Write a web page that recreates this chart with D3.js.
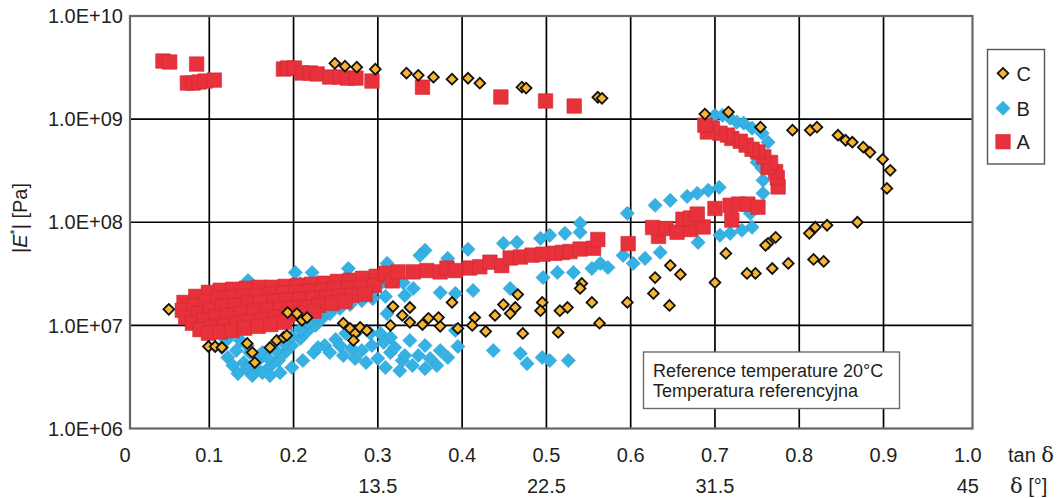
<!DOCTYPE html>
<html>
<head>
<meta charset="utf-8">
<script src="https://cdn.jsdelivr.net/npm/d3@7/dist/d3.min.js"></script>
<style>
  body { margin: 0; background: #fff; }
  svg { display: block; }
  text { font-family: "Liberation Sans", Arial, Helvetica, sans-serif; fill: #231f20; }
</style>
</head>
<body>
<svg id="chart" width="1061" height="498"></svg>
<script>
// Axis ticks and labels
const tanTicks = [0, 0.1, 0.2, 0.3, 0.4, 0.5, 0.6, 0.7, 0.8, 0.9, 1.0];
const tanTickLabels = ["0", "0.1", "0.2", "0.3", "0.4", "0.5", "0.6", "0.7", "0.8", "0.9", "1.0"];
const deltaTicks = [0.3, 0.5, 0.7, 1.0];
const deltaLabels = ["13.5", "22.5", "31.5", "45"];
const modTicks = [1e6, 1e7, 1e8, 1e9, 1e10];
const modTickLabels = ["1.0E+06", "1.0E+07", "1.0E+08", "1.0E+09", "1.0E+10"];
const legendNames = ["C", "B", "A"];
const noteLines = ["Reference temperature 20\u00B0C", "Temperatura referencyjna"];

// Series A: [tan delta, |E*| in Pa]
const seriesA = [
  [0.045, 3.66e9], [0.053, 3.58e9], [0.085, 3.42e9],
  [0.074, 2.24e9], [0.081, 2.24e9], [0.088, 2.29e9], [0.095, 2.34e9], [0.106, 2.39e9],
  [0.188, 3.06e9], [0.193, 3.13e9], [0.201, 3.13e9], [0.210, 2.80e9], [0.220, 2.80e9],
  [0.228, 2.74e9], [0.243, 2.56e9], [0.255, 2.56e9], [0.264, 2.50e9], [0.274, 2.50e9],
  [0.293, 2.34e9], [0.353, 2.04e9], [0.446, 1.64e9], [0.499, 1.50e9], [0.533, 1.34e9],
  // rubbery band
  [0.070, 1.67e7], [0.084, 1.91e7], [0.099, 2.09e7], [0.113, 2.19e7], [0.128, 2.24e7],
  [0.144, 2.29e7], [0.159, 2.34e7], [0.174, 2.34e7], [0.190, 2.39e7], [0.205, 2.44e7],
  [0.221, 2.50e7], [0.236, 2.56e7], [0.252, 2.67e7], [0.267, 2.74e7], [0.282, 2.86e7], [0.298, 2.99e7],
  [0.068, 1.40e7], [0.082, 1.56e7], [0.096, 1.71e7], [0.110, 1.83e7], [0.126, 1.87e7],
  [0.141, 1.91e7], [0.157, 1.95e7], [0.172, 2.00e7], [0.188, 2.05e7], [0.203, 2.09e7],
  [0.218, 2.14e7], [0.234, 2.19e7], [0.249, 2.24e7], [0.265, 2.29e7], [0.280, 2.34e7], [0.296, 2.44e7],
  [0.072, 1.20e7], [0.087, 1.31e7], [0.101, 1.43e7], [0.115, 1.53e7], [0.131, 1.56e7],
  [0.146, 1.64e7], [0.161, 1.67e7], [0.177, 1.71e7], [0.192, 1.75e7], [0.208, 1.79e7],
  [0.223, 1.83e7], [0.239, 1.87e7], [0.254, 1.91e7], [0.269, 1.95e7], [0.285, 2.00e7],
  [0.080, 1.05e7], [0.094, 1.12e7], [0.108, 1.20e7], [0.122, 1.25e7], [0.138, 1.31e7],
  [0.153, 1.37e7], [0.169, 1.40e7], [0.184, 1.43e7], [0.199, 1.46e7], [0.215, 1.50e7],
  [0.230, 1.56e7], [0.246, 1.64e7], [0.261, 1.71e7],
  [0.089, 9.1e6], [0.103, 9.6e6], [0.118, 1.0e7], [0.132, 1.05e7], [0.147, 1.09e7],
  [0.163, 1.14e7], [0.178, 1.20e7], [0.193, 1.25e7], [0.209, 1.31e7], [0.224, 1.37e7],
  [0.099, 8.4e6], [0.113, 8.6e6], [0.127, 8.9e6], [0.142, 9.4e6], [0.158, 9.8e6],
  [0.173, 1.02e7], [0.189, 1.07e7],
  // transition
  [0.309, 3.2e7], [0.317, 2.7e7], [0.324, 3.3e7], [0.342, 3.3e7], [0.358, 3.4e7],
  [0.374, 3.3e7], [0.382, 3.6e7], [0.392, 3.4e7], [0.409, 3.6e7], [0.421, 3.7e7],
  [0.433, 4.1e7], [0.447, 3.8e7], [0.457, 4.5e7], [0.469, 4.6e7], [0.483, 4.8e7],
  [0.496, 4.9e7], [0.510, 5.0e7], [0.519, 5.1e7], [0.528, 5.2e7], [0.540, 5.5e7],
  [0.556, 5.6e7], [0.561, 6.8e7], [0.597, 6.2e7],
  [0.633, 7.3e7], [0.626, 8.9e7], [0.642, 8.7e7], [0.655, 8.0e7], [0.671, 8.5e7],
  [0.686, 9.0e7], [0.662, 1.07e8], [0.671, 1.10e8], [0.679, 1.20e8], [0.720, 1.05e8],
  [0.700, 1.36e8], [0.718, 1.46e8], [0.728, 1.50e8], [0.739, 1.50e8], [0.751, 1.40e8],
  [0.775, 2.2e8], [0.774, 2.7e8], [0.772, 3.1e8], [0.763, 3.4e8], [0.766, 3.8e8],
  [0.758, 4.3e8], [0.751, 4.8e8], [0.744, 5.1e8], [0.737, 5.6e8], [0.730, 6.1e8],
  [0.720, 6.5e8], [0.715, 7.0e8], [0.706, 7.3e8], [0.697, 8.2e8], [0.691, 7.5e8], [0.688, 8.74e8]
];

// Series B: [tan delta, |E*| in Pa]
const seriesB = [
  [0.700, 1.09e9], [0.709, 1.09e9], [0.718, 1.02e9], [0.726, 9.35e8], [0.734, 9.14e8],
  [0.744, 8.17e8], [0.756, 7.30e8], [0.763, 5.97e8], [0.748, 4.46e8], [0.750, 3.81e8],
  [0.756, 3.33e8], [0.757, 2.55e8], [0.757, 1.91e8], [0.742, 1.22e8], [0.744, 8.94e7],
  [0.732, 8.36e7], [0.718, 7.81e7], [0.706, 7.47e7], [0.680, 6.38e7], [0.635, 5.10e7],
  [0.705, 2.18e8], [0.692, 2.04e8], [0.679, 1.91e8], [0.667, 1.78e8], [0.647, 1.63e8],
  [0.629, 1.46e8], [0.596, 1.22e8], [0.540, 9.78e7], [0.540, 7.99e7], [0.522, 7.81e7],
  [0.504, 7.47e7], [0.493, 6.98e7], [0.465, 6.38e7], [0.449, 6.24e7], [0.407, 5.46e7],
  [0.356, 5.34e7], [0.350, 4.77e7], [0.383, 4.46e7],
  [0.342, 2.28e7], [0.374, 2.08e7], [0.332, 1.95e7], [0.392, 2.04e7], [0.413, 2.18e7],
  [0.457, 2.28e7], [0.496, 2.91e7], [0.513, 3.26e7], [0.532, 3.26e7], [0.554, 3.56e7],
  [0.564, 3.99e7], [0.573, 3.64e7], [0.591, 4.77e7], [0.603, 3.99e7], [0.617, 4.46e7],
  [0.146, 2.72e7], [0.202, 3.26e7], [0.222, 3.26e7], [0.265, 3.56e7], [0.311, 3.99e7],
  [0.208, 2.55e7], [0.237, 2.18e7], [0.262, 2.85e7], [0.306, 2.66e7], [0.330, 2.60e7],
  [0.311, 1.30e7],
  [0.115, 6.10e6], [0.122, 4.88e6], [0.128, 4.08e6], [0.134, 3.41e6], [0.141, 4.36e6],
  [0.148, 5.46e6], [0.155, 3.81e6], [0.137, 7.14e6], [0.127, 8.36e6], [0.145, 6.38e6],
  [0.120, 7.14e6], [0.132, 5.71e6], [0.144, 3.81e6], [0.151, 3.26e6], [0.158, 4.56e6],
  [0.163, 5.46e6],
  [0.163, 3.48e6], [0.172, 3.99e6], [0.182, 4.56e6], [0.190, 5.46e6], [0.198, 6.38e6],
  [0.208, 7.47e6], [0.216, 8.74e6], [0.226, 1.00e7], [0.234, 1.17e7], [0.243, 1.30e7],
  [0.255, 1.46e7], [0.267, 1.59e7], [0.281, 1.74e7], [0.294, 1.82e7], [0.309, 1.91e7],
  [0.170, 4.77e6], [0.179, 5.71e6], [0.189, 6.68e6], [0.198, 7.81e6], [0.208, 9.14e6],
  [0.217, 1.07e7], [0.227, 1.22e7], [0.239, 1.39e7], [0.250, 1.56e7], [0.265, 1.74e7],
  [0.279, 1.91e7], [0.293, 2.08e7],
  [0.172, 3.26e6], [0.184, 3.48e6], [0.198, 3.90e6], [0.211, 4.56e6], [0.224, 5.46e6],
  [0.237, 6.38e6], [0.250, 7.30e6], [0.262, 8.36e6], [0.277, 8.94e6], [0.291, 8.36e6],
  [0.303, 8.36e6], [0.315, 7.64e6], [0.229, 6.10e6], [0.243, 5.46e6], [0.259, 5.10e6],
  [0.273, 4.77e6], [0.286, 4.36e6], [0.300, 4.77e6], [0.315, 5.46e6], [0.329, 4.56e6],
  [0.255, 6.38e6], [0.269, 5.97e6], [0.281, 5.71e6], [0.293, 6.38e6], [0.307, 6.83e6],
  [0.338, 7.14e6], [0.356, 6.38e6], [0.374, 5.71e6], [0.362, 4.77e6], [0.392, 8.94e6],
  [0.341, 4.08e6], [0.356, 3.81e6], [0.370, 4.08e6], [0.383, 4.88e6], [0.395, 6.24e6],
  [0.320, 6.10e6], [0.332, 5.10e6], [0.348, 5.10e6], [0.309, 3.90e6], [0.326, 3.64e6],
  [0.437, 5.71e6], [0.469, 5.34e6], [0.477, 4.26e6], [0.495, 4.88e6], [0.504, 4.56e6],
  [0.526, 4.56e6]
];

// Series C: [tan delta, |E*| in Pa]
const seriesC = [
  [0.249, 3.48e9], [0.261, 3.26e9], [0.275, 3.19e9], [0.297, 3.05e9], [0.334, 2.79e9],
  [0.348, 2.66e9], [0.366, 2.55e9], [0.388, 2.44e9], [0.407, 2.49e9], [0.421, 2.23e9],
  [0.471, 2.04e9], [0.476, 2.00e9], [0.561, 1.63e9], [0.566, 1.59e9],
  [0.688, 1.12e9], [0.716, 1.17e9], [0.754, 8.36e8], [0.792, 7.81e8], [0.813, 7.81e8],
  [0.821, 8.36e8], [0.846, 6.98e8], [0.855, 6.24e8], [0.863, 5.97e8], [0.876, 5.34e8],
  [0.884, 4.77e8], [0.899, 4.08e8], [0.908, 3.19e8], [0.904, 2.13e8],
  [0.869, 1.00e8], [0.833, 9.35e7], [0.819, 8.94e7], [0.812, 7.81e7], [0.772, 7.14e7],
  [0.763, 6.24e7], [0.760, 5.97e7], [0.713, 4.99e7], [0.787, 3.99e7], [0.768, 3.56e7],
  [0.748, 3.19e7], [0.738, 3.19e7], [0.817, 4.36e7], [0.829, 4.17e7], [0.700, 2.60e7],
  [0.647, 3.81e7], [0.659, 3.12e7], [0.629, 2.91e7], [0.627, 2.04e7], [0.646, 1.56e7],
  [0.596, 1.67e7], [0.554, 1.67e7], [0.563, 1.05e7], [0.542, 2.55e7], [0.540, 2.28e7],
  [0.525, 1.49e7], [0.516, 1.39e7], [0.514, 8.55e6], [0.495, 1.67e7], [0.493, 1.39e7],
  [0.472, 8.36e6], [0.466, 1.99e7], [0.463, 1.49e7], [0.449, 1.59e7], [0.457, 1.30e7],
  [0.439, 1.25e7], [0.428, 8.74e6], [0.415, 1.19e7], [0.412, 1.00e7], [0.395, 9.35e6],
  [0.388, 1.67e7], [0.374, 9.78e6], [0.372, 1.19e7], [0.360, 1.17e7], [0.353, 1.02e7],
  [0.338, 1.49e7], [0.338, 1.07e7], [0.329, 1.25e7], [0.318, 1.52e7], [0.315, 1.00e7],
  [0.052, 1.43e7], [0.099, 6.24e6], [0.107, 6.24e6], [0.115, 6.10e6], [0.145, 6.68e6],
  [0.151, 5.46e6], [0.154, 4.36e6], [0.172, 6.10e6], [0.180, 7.14e6], [0.188, 7.64e6],
  [0.192, 7.99e6], [0.193, 1.33e7], [0.204, 1.30e7], [0.210, 1.12e7], [0.216, 1.19e7],
  [0.259, 1.05e7], [0.267, 9.35e6], [0.273, 8.36e6], [0.279, 9.56e6], [0.287, 8.94e6],
  [0.271, 7.14e6]
];

const svg = d3.select("#chart");

const x = d3.scaleLinear().domain([0, 1]).range([125, 967.8]);
const y = d3.scaleLog().domain([1e6, 1e10]).range([428.5, 16]);

const frame = { left: 130, right: 972.5, top: 16, bottom: 428.5 };

// Grid lines
svg.append("g")
  .selectAll("line")
  .data(tanTicks.filter(t => t > 0 && t < 1))
  .join("line")
  .attr("x1", d => x(d)).attr("x2", d => x(d))
  .attr("y1", frame.top).attr("y2", frame.bottom)
  .attr("stroke", "#000").attr("stroke-width", 1.7);

svg.append("g")
  .selectAll("line")
  .data(modTicks.filter(t => t > 1e6 && t < 1e10))
  .join("line")
  .attr("x1", frame.left).attr("x2", frame.right)
  .attr("y1", d => y(d)).attr("y2", d => y(d))
  .attr("stroke", "#000").attr("stroke-width", 1.7);

// Markers
const diamond = s => d3.symbol(d3.symbolSquare, s * s);

svg.append("g")
  .selectAll("path")
  .data(seriesB)
  .join("path")
  .attr("d", diamond(10))
  .attr("transform", d => `translate(${x(d[0])},${y(d[1])}) rotate(45)`)
  .attr("fill", "#35b1e3")
  .attr("stroke", "#2a9fd2")
  .attr("stroke-width", 0.6);

svg.append("g")
  .selectAll("path")
  .data(seriesA)
  .join("path")
  .attr("d", d3.symbol(d3.symbolSquare, 14.5 * 14.5))
  .attr("transform", d => `translate(${x(d[0])},${y(d[1])})`)
  .attr("fill", "#e8313b")
  .attr("stroke", "#cc2a33")
  .attr("stroke-width", 0.6);

svg.append("g")
  .selectAll("path")
  .data(seriesC)
  .join("path")
  .attr("d", diamond(7.6))
  .attr("transform", d => `translate(${x(d[0])},${y(d[1])}) rotate(45)`)
  .attr("fill", "#f8b531")
  .attr("stroke", "#111")
  .attr("stroke-width", 1.8);

// Plot frame
svg.append("rect")
  .attr("x", frame.left).attr("y", frame.top)
  .attr("width", frame.right - frame.left).attr("height", frame.bottom - frame.top)
  .attr("fill", "none").attr("stroke", "#666").attr("stroke-width", 2.2);

// Y axis tick labels
svg.append("g")
  .selectAll("text")
  .data(modTicks)
  .join("text")
  .attr("x", 123)
  .attr("y", d => y(d))
  .attr("dy", "0.36em")
  .attr("text-anchor", "end")
  .attr("font-size", 20)
  .text((d, i) => modTickLabels[i]);

// X axis tick labels (tan delta)
svg.append("g")
  .selectAll("text")
  .data(tanTicks)
  .join("text")
  .attr("x", d => x(d))
  .attr("y", 462)
  .attr("text-anchor", "middle")
  .attr("font-size", 20)
  .text((d, i) => tanTickLabels[i]);

// Second row (delta in degrees)
svg.append("g")
  .selectAll("text")
  .data(deltaTicks)
  .join("text")
  .attr("x", d => x(d))
  .attr("y", 493)
  .attr("text-anchor", "middle")
  .attr("font-size", 20)
  .text((d, i) => deltaLabels[i]);

const tanTitle = svg.append("text").attr("x", 1008).attr("y", 462).attr("font-size", 20);
tanTitle.append("tspan").text("tan ");
tanTitle.append("tspan").attr("font-family", "'DejaVu Serif', serif").attr("font-size", 21).text("\u03B4");
const deltaTitle = svg.append("text").attr("x", 1010).attr("y", 493).attr("font-size", 20);
deltaTitle.append("tspan").attr("font-family", "'DejaVu Serif', serif").attr("font-size", 21).text("\u03B4");
deltaTitle.append("tspan").text(" [\u00B0]");

// Y axis title |E*| [Pa]
const yTitle = svg.append("text")
  .attr("transform", "translate(27,218) rotate(-90)")
  .attr("text-anchor", "middle")
  .attr("font-size", 20);
yTitle.append("tspan").text("|");
yTitle.append("tspan").attr("font-style", "italic").text("E");
yTitle.append("tspan").attr("font-size", 13).attr("dy", -8).text("*");
yTitle.append("tspan").attr("dy", 8).text("| [Pa]");

// Legend
const legend = svg.append("g");
legend.append("rect")
  .attr("x", 987.5).attr("y", 49.5).attr("width", 57).attr("height", 114.5)
  .attr("fill", "#fff").attr("stroke", "#555").attr("stroke-width", 1.4);
const legendY = [73.3, 108.3, 141.7];
const legendStyle = {
  C: { fill: "#f8b531", stroke: "#111", sw: 1.8, shape: "diamond", size: 7.6 },
  B: { fill: "#35b1e3", stroke: "#2a9fd2", sw: 0.6, shape: "diamond", size: 10 },
  A: { fill: "#e8313b", stroke: "#cc2a33", sw: 0.6, shape: "square", size: 14.5 }
};
legendNames.forEach((name, i) => {
  const st = legendStyle[name];
  legend.append("path")
    .attr("d", d3.symbol(d3.symbolSquare, st.size * st.size))
    .attr("transform", `translate(1003,${legendY[i]})` + (st.shape === "diamond" ? " rotate(45)" : ""))
    .attr("fill", st.fill).attr("stroke", st.stroke).attr("stroke-width", st.sw);
  legend.append("text")
    .attr("x", 1016.5).attr("y", legendY[i]).attr("dy", "0.36em")
    .attr("font-size", 20)
    .text(name);
});

// Reference temperature note
const note = svg.append("g");
note.append("rect")
  .attr("x", 643.5).attr("y", 352).attr("width", 256).attr("height", 56.5)
  .attr("fill", "#fff").attr("stroke", "#6b6b6b").attr("stroke-width", 1.4);
note.selectAll("text")
  .data(noteLines)
  .join("text")
  .attr("x", 653)
  .attr("y", (d, i) => 377.3 + i * 20)
  .attr("font-size", 18)
  .text(d => d);
</script>
</body>
</html>
